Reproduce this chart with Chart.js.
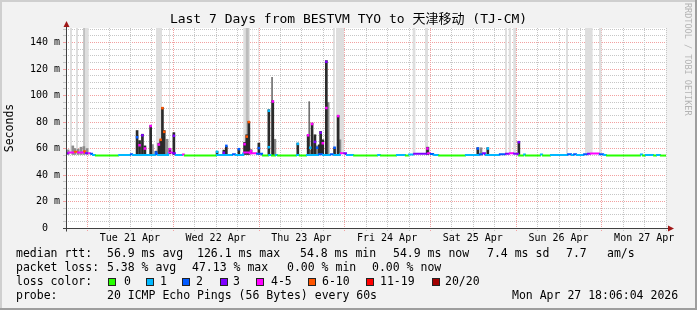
<!DOCTYPE html>
<html>
<head>
<meta charset="utf-8">
<script src="https://cdn.jsdelivr.net/npm/chart.js@4.4.1/dist/chart.umd.min.js"></script>
<style>
  html, body { margin: 0; padding: 0; background: #f2f2f2; }
</style>
</head>
<body>
<canvas id="smoke" width="697" height="310"></canvas>
<script>
/* ============================================
   SMOKEPING 7 DAY GRAPH - BESTVM TYO -> TJ-CM
   x values are hours since graph start (Mon 20 Apr 18:06)
   ============================================ */

const titleText = 'Last 7 Days from BESTVM TYO to 天津移动 (TJ-CM)';
const dayLabels = ['Tue 21 Apr', 'Wed 22 Apr', 'Thu 23 Apr', 'Fri 24 Apr', 'Sat 25 Apr', 'Sun 26 Apr', 'Mon 27 Apr'];
const firstMidnight = 5.9;   // Tue 21 Apr 00:00
const spanHours = 168;
const yMax = 151;
const yMajor = [0, 20, 40, 60, 80, 100, 120, 140];
const yLabels = ['0  ', '20 m', '40 m', '60 m', '80 m', '100 m', '120 m', '140 m'];

const lossNames = ['0', '1', '2', '3', '4-5', '6-10', '11-19', '20/20'];
const lossColors = ['#26ff00', '#00b8ff', '#0059ff', '#7e00ff', '#ff00ff', '#ff5500', '#ff0000', '#a10000'];

// median rtt steps (start hour, ms, loss class)
const medT = [0.0, 0.6, 2.2, 3.1, 4.8, 5.3, 6.2, 6.7, 7.3, 8.1, 14.6, 17.9, 18.5, 24.9, 25.5, 28.6, 29.7, 30.5, 32.5, 33.0,
  42.0, 46.5, 47.3, 49.6, 51.5, 53.2, 54.9, 56.6, 57.4, 58.5, 59.1, 64.4, 65.2, 67.2, 70.6, 71.7, 73.9, 74.8, 76.7, 77.6,
  78.4, 80.4, 87.1, 87.9, 92.4, 94.9, 95.8, 97.2, 101.1, 101.9, 102.8, 104.2, 111.7, 115.6, 116.5, 117.3, 121.2, 122.9, 124.0, 125.2,
  126.6, 128.0, 128.5, 132.7, 133.3, 135.5, 140.3, 141.4, 142.0, 142.8, 144.8, 145.9, 146.7, 149.2, 150.4, 151.2, 160.7, 161.3, 162.1, 164.4,
  165.2, 166.3];
const medV = [56.5, 57.0, 57.5, 57.0, 58.0, 56.5, 56.5, 56.0, 55.2, 54.7, 55.2, 55.6, 55.2, 56.0, 55.2, 57.0, 56.5, 55.2, 55.5, 54.7,
  55.2, 55.6, 55.2, 57.0, 56.5, 56.0, 54.7, 55.2, 54.7, 55.2, 54.7, 55.2, 54.7, 55.2, 55.6, 55.2, 55.6, 55.2, 56.5, 56.5,
  55.2, 54.7, 55.2, 54.7, 55.2, 54.7, 55.4, 56.0, 56.5, 55.8, 55.2, 54.7, 55.2, 55.6, 56.5, 55.2, 55.6, 56.0, 56.5, 56.0,
  54.7, 55.5, 54.7, 55.5, 54.7, 55.2, 55.6, 55.2, 55.6, 55.2, 55.6, 56.0, 56.3, 55.6, 55.2, 54.7, 55.5, 54.7, 55.2, 54.7,
  55.2, 54.7];
const medLoss = [3, 4, 5, 4, 5, 3, 4, 2, 1, 0, 1, 2, 1, 2, 1, 4, 3, 1, 4, 0,
  1, 2, 1, 4, 4, 2, 0, 1, 0, 1, 0, 1, 0, 1, 2, 1, 2, 1, 4, 3,
  1, 0, 1, 0, 1, 0, 1, 3, 4, 2, 1, 0, 1, 2, 3, 1, 2, 3, 4, 3,
  0, 1, 0, 1, 0, 1, 2, 1, 2, 1, 2, 3, 4, 2, 1, 0, 1, 0, 1, 0,
  1, 0];

// dark smoke columns
const darkT = [19.9, 20.6, 21.4, 22.1, 23.7, 25.2, 26.0, 26.5, 27.0, 27.5, 29.1, 30.2, 42.3, 44.2, 44.9, 48.4, 50.0, 50.6, 51.2, 51.8,
  54.0, 56.8, 57.9, 64.9, 67.8, 68.9, 69.7, 70.9, 71.3, 71.9, 72.9, 75.2, 76.2, 101.2, 115.3, 118.1, 126.8];
const darkHi = [73.6, 66.0, 70.8, 62.0, 77.2, 58.0, 64.0, 66.6, 91.0, 73.6, 60.0, 72.0, 57.8, 58.8, 61.5, 59.5, 64.6, 70.4, 80.5, 59.0,
  64.1, 89.3, 96.1, 64.1, 70.4, 79.2, 70.4, 62.8, 72.9, 66.6, 126.4, 60.6, 84.8, 61.0, 60.6, 60.6, 65.3];
const darkLo = [55.5, 55.5, 55.5, 55.5, 55.5, 55.5, 55.5, 55.5, 55.5, 55.5, 56.0, 55.5, 55.0, 55.5, 55.5, 55.0, 55.5, 55.5, 55.5, 56.0,
  55.5, 55.0, 55.0, 55.0, 55.5, 55.5, 55.5, 55.5, 55.5, 55.5, 55.5, 55.0, 55.5, 55.5, 55.0, 55.0, 55.5];

// lighter smoke columns
const grayT = [0.6, 1.9, 2.5, 3.4, 4.2, 5.0, 5.9, 24.2, 28.3, 58.5, 68.4, 69.4, 70.3, 73.4, 76.7, 116.2];
const grayHi = [59.0, 62.0, 60.0, 59.5, 61.0, 61.5, 60.0, 63.0, 67.0, 67.0, 58.8, 64.0, 62.0, 94.8, 66.6, 60.6];
const grayLo = [55.5, 55.5, 55.5, 55.5, 55.5, 55.5, 55.5, 55.5, 55.5, 55.0, 55.5, 55.5, 55.5, 55.5, 55.5, 55.0];
const thinT = [57.7, 68.1, 101.5];
const thinHi = [113.7, 95.4, 61.0];

// median marks on the spikes
const dotT = [19.9, 20.6, 21.4, 22.1, 23.7, 25.2, 26.0, 26.5, 27.0, 27.5, 29.1, 30.2, 42.3, 44.2, 44.9, 48.4, 50.0, 50.6, 51.2, 51.8,
  54.0, 56.8, 56.8, 57.9, 64.9, 67.8, 68.4, 68.9, 69.7, 70.3, 71.3, 71.9, 72.9, 72.9, 75.2, 76.2, 101.2, 115.3, 118.1, 126.8];
const dotV = [68.5, 62.5, 70.0, 60.0, 77.0, 57.0, 63.0, 66.6, 90.5, 72.6, 59.5, 69.6, 57.5, 56.8, 62.0, 59.5, 63.3, 69.0, 80.0, 58.0,
  60.3, 88.5, 61.0, 95.5, 63.5, 70.0, 60.6, 78.5, 65.0, 60.6, 72.0, 64.0, 125.5, 90.6, 60.6, 84.5, 60.0, 60.0, 60.0, 64.8];
const dotLoss = [2, 4, 3, 4, 4, 2, 4, 5, 5, 5, 4, 3, 1, 3, 2, 2, 4, 5, 5, 4,
  2, 1, 1, 4, 1, 4, 1, 4, 3, 2, 3, 4, 3, 4, 2, 4, 4, 2, 1, 3];

// outer smoke reaching past the top of the graph
const bandFrom = [1.1, 2.8, 4.8, 25.2, 28.8, 49.6, 52.2, 53.7, 74.7, 75.6, 97.0, 100.5, 122.9, 123.9, 125.2, 140.0, 145.3, 149.2];
const bandTo = [1.7, 3.4, 6.4, 26.9, 29.1, 51.5, 52.4, 54.0, 75.3, 77.9, 97.9, 101.4, 123.5, 124.6, 126.0, 140.6, 147.5, 150.0];
const coreFrom = [4.8, 50.3];
const coreTo = [5.3, 51.2];
const bandFloor = 56;

// legend texts
const rttStats = ['56.9 ms avg', '126.1 ms max', '54.8 ms min', '54.9 ms now', '7.4 ms sd', '7.7', 'am/s'];
const lossStats = ['5.38 % avg', '47.13 % max', '0.00 % min', '0.00 % now'];
const probeText = '20 ICMP Echo Pings (56 Bytes) every 60s';
const stampText = 'Mon Apr 27 18:06:04 2026';

// layout of the text block (px)
const MONO = "'DejaVu Sans Mono', 'Noto Sans CJK SC', monospace";
const rttX = [107, 197, 300, 393, 487, 566, 607];
const lossX = [107, 192, 287, 372];
const boxX = [108, 146, 182, 220, 256, 308, 366, 432];
const boxLabelX = [124, 160, 196, 233, 271, 322, 380, 445];

Chart.defaults.font.family = MONO;
Chart.defaults.color = '#000';

const gridHours = [];
for (let k = 0; k * 6 + firstMidnight < spanHours; k++) gridHours.push(firstMidnight + k * 6);
const yGrid = [];
for (let v = 0; v <= 150; v += 5) yGrid.push(v);

function isMidnight(v) {
    const k = (v - firstMidnight) / 24;
    return Math.abs(k - Math.round(k)) < 1e-6;
}

function dayLabel(v) {
    const k = (v - firstMidnight - 12) / 24;
    return Math.abs(k - Math.round(k)) < 1e-6 ? (dayLabels[Math.round(k)] || '') : '';
}

function bandPoints(from, to) {
    const pts = [];
    from.forEach((s, i) => {
        pts.push({ x: s, y: yMax }, { x: to[i], y: yMax }, { x: to[i], y: null });
    });
    return pts;
}

const medData = medT.map((t, i) => ({ x: t, y: medV[i] }));
medData.push({ x: spanHours, y: medV[medV.length - 1] });

const MGRID = '#f2a0a0';
const GRID = '#c6c6c6';

function tickVal(c) {
    return c && c.tick ? c.tick.value : NaN;
}

const frame = {
    id: 'frame',
    beforeDraw(chart) {
        const { ctx, chartArea: a } = chart;
        ctx.save();
        ctx.fillStyle = '#f2f2f2';
        ctx.fillRect(0, 0, chart.width, chart.height);
        ctx.fillStyle = '#ffffff';
        ctx.fillRect(a.left, a.top, a.right - a.left, a.bottom - a.top);
        ctx.restore();
    },
    beforeDatasetsDraw(chart) {
        // vertical time grid: 6 h dotted, midnight in red
        const { ctx, chartArea: a } = chart;
        const xs = chart.scales.x;
        ctx.save();
        ctx.lineWidth = 1;
        ctx.setLineDash([1, 1]);
        gridHours.forEach(h => {
            const px = Math.round(xs.getPixelForValue(h)) + 0.5;
            ctx.strokeStyle = isMidnight(h) ? MGRID : GRID;
            ctx.beginPath();
            ctx.moveTo(px, a.top);
            ctx.lineTo(px, a.bottom + 3);
            ctx.stroke();
        });
        ctx.restore();
    },
    afterDraw(chart) {
        const { ctx, chartArea: a } = chart;
        const x0 = a.left + 0.5, y0 = a.bottom + 0.5;
        ctx.save();

        // axes with arrows
        ctx.strokeStyle = '#404040';
        ctx.lineWidth = 1;
        ctx.beginPath();
        ctx.moveTo(x0, y0 + 3);
        ctx.lineTo(x0, a.top - 3);
        ctx.moveTo(x0 - 3.5, y0);
        ctx.lineTo(a.right + 3, y0);
        ctx.stroke();
        ctx.fillStyle = '#a01818';
        ctx.beginPath();
        ctx.moveTo(x0, a.top - 7);
        ctx.lineTo(x0 - 3, a.top - 1);
        ctx.lineTo(x0 + 3, a.top - 1);
        ctx.closePath();
        ctx.fill();
        ctx.beginPath();
        ctx.moveTo(a.right + 8, y0);
        ctx.lineTo(a.right + 2, y0 - 3);
        ctx.lineTo(a.right + 2, y0 + 3);
        ctx.closePath();
        ctx.fill();

        // title
        ctx.fillStyle = '#000';
        ctx.font = '13px ' + MONO;
        ctx.textAlign = 'center';
        ctx.textBaseline = 'middle';
        ctx.fillText(titleText, chart.width / 2, 20);

        // watermark
        ctx.save();
        ctx.translate(687, 3);
        ctx.rotate(Math.PI / 2);
        ctx.font = '8.5px ' + MONO;
        ctx.fillStyle = '#b4b4b4';
        ctx.textAlign = 'left';
        ctx.fillText('RRDTOOL / TOBI OETIKER', 0, 0);
        ctx.restore();

        // legend block
        ctx.font = '11.5px ' + MONO;
        ctx.textAlign = 'left';
        ctx.fillStyle = '#000';
        ctx.fillText('median rtt:', 16, 254);
        rttStats.forEach((s, i) => ctx.fillText(s, rttX[i], 254));
        ctx.fillText('packet loss:', 16, 268);
        lossStats.forEach((s, i) => ctx.fillText(s, lossX[i], 268));
        ctx.fillText('loss color:', 16, 282);
        lossNames.forEach((n, i) => {
            ctx.fillStyle = lossColors[i];
            ctx.fillRect(boxX[i], 278, 8, 8);
            ctx.strokeStyle = '#222';
            ctx.strokeRect(boxX[i] + 0.5, 278.5, 7, 7);
            ctx.fillStyle = '#000';
            ctx.fillText(n, boxLabelX[i], 282);
        });
        ctx.fillText('probe:', 16, 296);
        ctx.fillText(probeText, 107, 296);
        ctx.fillText(stampText, 512, 296);

        // 3d frame
        ctx.fillStyle = '#cfcfcf';
        ctx.fillRect(0, 0, chart.width, 2);
        ctx.fillRect(0, 0, 2, chart.height);
        ctx.fillStyle = '#9e9e9e';
        ctx.fillRect(0, chart.height - 2, chart.width, 2);
        ctx.fillRect(chart.width - 2, 0, 2, chart.height);
        ctx.restore();
    }
};

new Chart(document.getElementById('smoke'), {
    type: 'line',
    data: {
        datasets: [{
            label: 'loss marks',
            data: dotT.map((t, i) => ({ x: t, y: dotV[i] })),
            showLine: false,
            pointStyle: 'rect',
            pointRadius: 1.8,
            pointBorderWidth: 0,
            pointBackgroundColor: c => lossColors[dotLoss[c.dataIndex]] || '#000',
            order: 0
        }, {
            label: 'median rtt',
            data: medData,
            stepped: true,
            borderWidth: 2,
            pointRadius: 0,
            fill: false,
            segment: {
                borderColor: c => lossColors[medLoss[c.p0DataIndex]]
            },
            order: 1
        }, {
            type: 'bar',
            label: 'smoke dark',
            data: darkT.map((t, i) => ({ x: t, y: [darkLo[i], darkHi[i]] })),
            backgroundColor: '#2a2a2a',
            barThickness: 2,
            grouped: false,
            order: 2
        }, {
            type: 'bar',
            label: 'smoke thin',
            data: thinT.map((t, i) => ({ x: t, y: [55.5, thinHi[i]] })),
            backgroundColor: '#707070',
            barThickness: 1,
            grouped: false,
            order: 3
        }, {
            type: 'bar',
            label: 'smoke gray',
            data: grayT.map((t, i) => ({ x: t, y: [grayLo[i], grayHi[i]] })),
            backgroundColor: '#8c8c8c',
            barThickness: 2,
            grouped: false,
            order: 3
        }, {
            label: 'smoke core',
            data: bandPoints(coreFrom, coreTo),
            fill: { value: bandFloor },
            backgroundColor: '#bcbcbc',
            borderWidth: 0,
            pointRadius: 0,
            order: 4
        }, {
            label: 'smoke outer',
            data: bandPoints(bandFrom, bandTo),
            fill: { value: bandFloor },
            backgroundColor: '#dedede',
            borderWidth: 0,
            pointRadius: 0,
            order: 5
        }]
    },
    options: {
        responsive: false,
        animation: false,
        events: [],
        devicePixelRatio: 1,
        layout: { padding: { top: 28, right: 31, left: 0, bottom: 0 } },
        plugins: {
            legend: { display: false },
            tooltip: { enabled: false },
            title: { display: false }
        },
        scales: {
            x: {
                type: 'linear',
                min: 0,
                max: spanHours,
                offset: false,
                afterBuildTicks: s => { s.ticks = gridHours.map(v => ({ value: v })); },
                afterFit: s => { s.height = 82; },
                ticks: {
                    autoSkip: false,
                    maxRotation: 0,
                    padding: 1,
                    font: { size: 10 },
                    callback: v => dayLabel(v)
                },
                grid: { display: false, drawTicks: true, tickLength: 3 },
                border: { display: false }
            },
            y: {
                min: 0,
                max: yMax,
                afterBuildTicks: s => { s.ticks = yGrid.map(v => ({ value: v })); },
                afterFit: s => { s.width = 66; },
                ticks: {
                    autoSkip: false,
                    padding: 3,
                    font: { size: 10 },
                    callback: v => {
                        const i = yMajor.indexOf(v);
                        return i >= 0 ? yLabels[i] : '';
                    }
                },
                grid: {
                    color: c => (tickVal(c) % 20 === 0) ? MGRID : GRID,
                    lineWidth: 1,
                    tickLength: 3
                },
                border: { display: false, dash: [1, 1] },
                title: {
                    display: true,
                    text: 'Seconds',
                    padding: { top: 3, bottom: 0 },
                    font: { size: 11.5 }
                }
            }
        }
    },
    plugins: [frame]
});
</script>
</body>
</html>
